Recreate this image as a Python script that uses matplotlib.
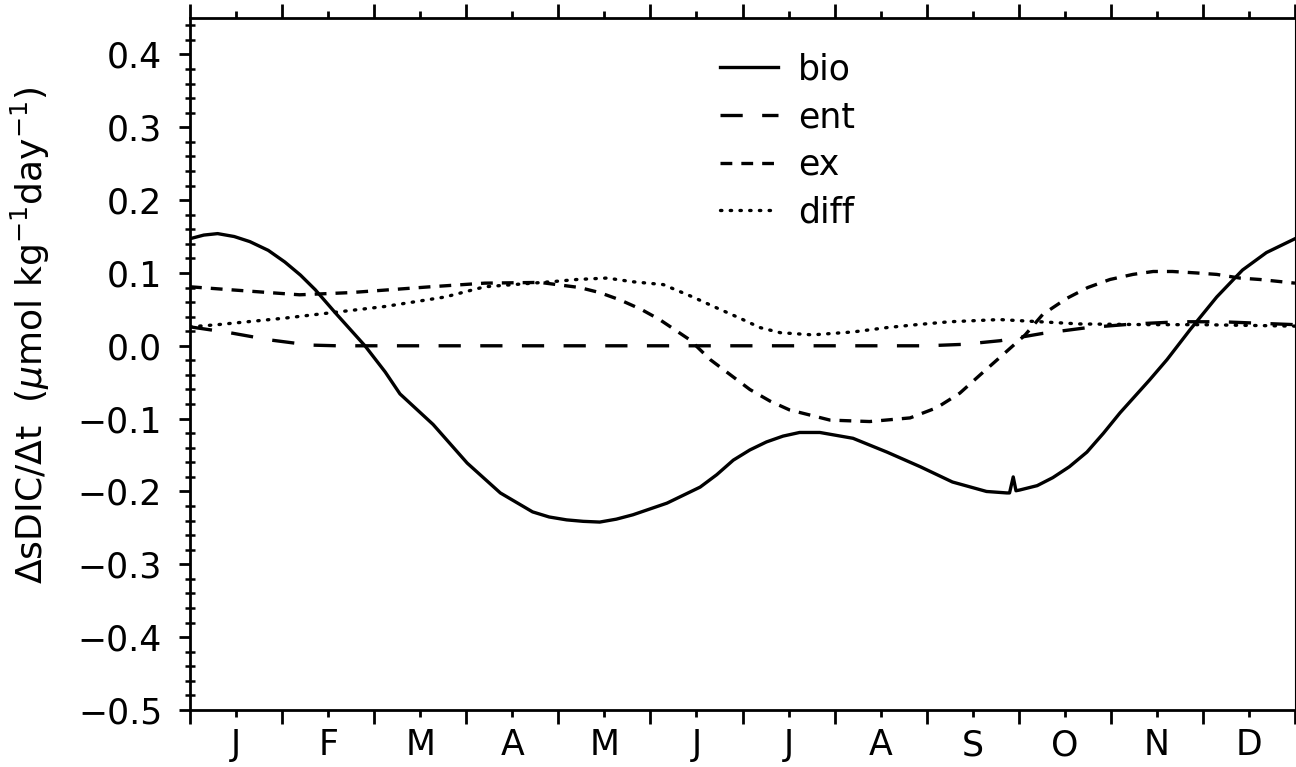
import matplotlib
matplotlib.use('Agg')
import matplotlib.pyplot as plt
import numpy as np
from matplotlib.ticker import MultipleLocator, FixedLocator, NullFormatter, FuncFormatter

plt.rcParams['font.family'] = ['DejaVu Sans']
plt.rcParams['lines.scale_dashes'] = False

# time axis in months (0 = 1 Jan, 12 = 31 Dec)
bio_t = [0.00, 0.15, 0.30, 0.48, 0.65, 0.85, 1.03, 1.20, 1.36, 1.58, 1.90, 2.12,
         2.28, 2.64, 3.01, 3.37, 3.72, 3.90, 4.09, 4.27, 4.45, 4.63, 4.81, 5.18,
         5.54, 5.72, 5.90, 6.08, 6.26, 6.44, 6.62, 6.84, 7.20, 7.57, 7.93, 8.28,
         8.65, 8.87, 8.90, 8.94, 8.97, 9.01, 9.20, 9.37, 9.55, 9.74, 9.92, 10.10,
         10.42, 10.61, 10.86, 11.15, 11.43, 11.69, 12.00]
bio = [0.147, 0.152, 0.154, 0.150, 0.143, 0.131, 0.115, 0.097, 0.077, 0.045,
       0.000, -0.036, -0.066, -0.108, -0.161, -0.202, -0.228, -0.235, -0.239,
       -0.241, -0.242, -0.238, -0.232, -0.216, -0.194, -0.177, -0.157, -0.143,
       -0.132, -0.124, -0.119, -0.119, -0.127, -0.146, -0.166, -0.187, -0.200,
       -0.202, -0.202, -0.180, -0.199, -0.198, -0.192, -0.181, -0.166, -0.146,
       -0.120, -0.092, -0.047, -0.019, 0.022, 0.067, 0.104, 0.128, 0.147]

ent_t = [0.00, 0.43, 0.87, 1.30, 1.60, 8.00, 8.40, 8.80, 9.26, 9.75, 10.25,
         10.75, 11.20, 11.60, 12.00]
ent = [0.026, 0.018, 0.008, 0.001, 0.000, 0.000, 0.002, 0.007, 0.017, 0.025,
       0.030, 0.033, 0.033, 0.031, 0.029]

ex_t = [0.00, 0.43, 1.19, 1.74, 2.61, 3.20, 3.80, 4.23, 4.45, 4.67, 4.90, 5.10,
        5.43, 5.65, 6.08, 6.30, 6.51, 6.95, 7.38, 7.82, 8.11, 8.36, 8.58, 8.83,
        9.07, 9.26, 9.52, 9.75, 9.99, 10.24, 10.46, 10.67, 10.93, 11.15, 11.40,
        11.62, 12.00]
ex = [0.081, 0.077, 0.070, 0.073, 0.081, 0.086, 0.087, 0.080, 0.073, 0.063,
      0.050, 0.036, 0.008, -0.019, -0.060, -0.076, -0.088, -0.102, -0.104,
      -0.099, -0.085, -0.065, -0.040, -0.012, 0.015, 0.043, 0.065, 0.080, 0.091,
      0.098, 0.102, 0.102, 0.100, 0.098, 0.093, 0.091, 0.086]

diff_t = [0.00, 0.30, 1.03, 2.12, 2.77, 3.20, 3.93, 4.20, 4.53, 4.80, 5.14,
          5.46, 5.72, 5.97, 6.19, 6.41, 6.76, 7.20, 7.57, 7.89, 8.25, 8.79,
          9.23, 9.66, 10.42, 10.97, 12.00]
diff = [0.026, 0.029, 0.038, 0.054, 0.067, 0.081, 0.088, 0.091, 0.093, 0.088,
        0.084, 0.067, 0.052, 0.038, 0.025, 0.018, 0.015, 0.019, 0.025, 0.029,
        0.033, 0.036, 0.033, 0.030, 0.029, 0.029, 0.027]

months = ['J', 'F', 'M', 'A', 'M', 'J', 'J', 'A', 'S', 'O', 'N', 'D']

fig = plt.figure(figsize=(12.96, 7.67), dpi=100)
ax = fig.add_axes([190/1296, 1 - 710/767, 1105/1296, 692/767])

lw = 2.4
ax.plot(bio_t, bio, color='black', lw=lw, linestyle='-', label='bio')
ax.plot(ent_t, ent, color='black', lw=lw, linestyle=(0, (16, 14)), label='ent')
ax.plot(ex_t, ex, color='black', lw=lw, linestyle=(0, (8.5, 6.5)), label='ex')
ax.plot(diff_t, diff, color='black', lw=lw, linestyle=(0, (1, 6)),
        dash_capstyle='round', label='diff')

ax.set_xlim(0, 12)
ax.set_ylim(-0.5, 0.45)


def yfmt(v, pos):
    s = '%.1f' % v
    if s == '-0.0':
        s = '0.0'
    return s.replace('-', '\u2212')


# y ticks
ax.yaxis.set_major_locator(FixedLocator(np.round(np.arange(-0.5, 0.41, 0.1), 1)))
ax.yaxis.set_minor_locator(MultipleLocator(0.02))
ax.yaxis.set_major_formatter(FuncFormatter(yfmt))
ax.tick_params(axis='y', which='major', direction='out', length=8, width=2,
               labelsize=25, pad=12)
ax.tick_params(axis='y', which='minor', direction='inout', length=7, width=1.8)

# x ticks: long at month boundaries, short at mid-month with labels
ax.xaxis.set_major_locator(FixedLocator(np.arange(0, 13)))
ax.xaxis.set_major_formatter(NullFormatter())
ax.xaxis.set_minor_locator(FixedLocator(np.arange(12) + 0.5))
ax.xaxis.set_minor_formatter(matplotlib.ticker.FixedFormatter(months))
ax.tick_params(axis='x', which='major', direction='out', length=10, width=2,
               top=True, bottom=True)
ax.tick_params(axis='x', which='minor', direction='out', length=5, width=2,
               top=True, bottom=True, labelsize=25, pad=8)

for side in ['left', 'bottom', 'top']:
    ax.spines[side].set_linewidth(2)
ax.spines['right'].set_linewidth(0.8)

fig.text(30/1296, 1 - 335/767,
         r'$\Delta$sDIC/$\Delta$t  ($\mu$mol kg$^{-1}$day$^{-1}$)',
         rotation=90, ha='center', va='center', fontsize=26)

leg = ax.legend(loc='upper left', bbox_to_anchor=(0.467, 0.97), frameon=False,
                fontsize=25, handlelength=1.67, handletextpad=0.58,
                labelspacing=0.39, borderaxespad=0)

fig.savefig('out.png', dpi=100)
